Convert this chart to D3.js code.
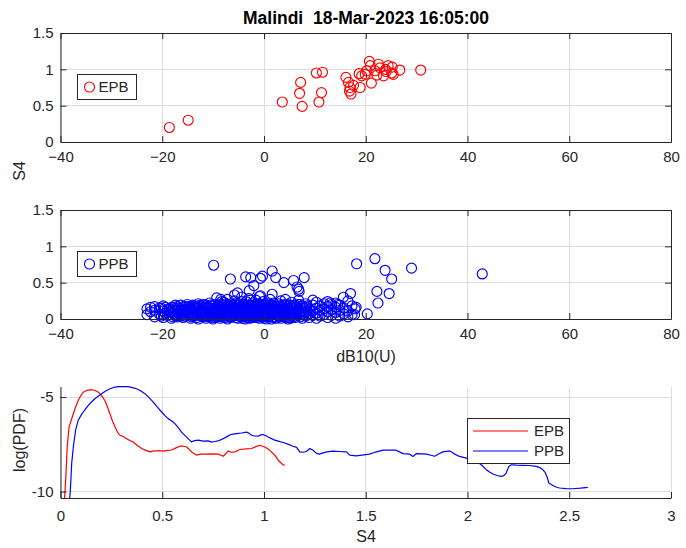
<!DOCTYPE html>
<html>
<head>
<meta charset="utf-8">
<script src="https://cdn.jsdelivr.net/npm/d3@7"></script>
<style>
  body { margin: 0; background: #fff; }
  text { font-family: "Liberation Sans", Arial, Helvetica, sans-serif; fill: #262626; white-space: pre; }
</style>
</head>
<body>
<svg id="chart" width="686" height="548"></svg>
<script>
// ---- data -------------------------------------------------------------
const titleText = "Malindi  18-Mar-2023 16:05:00";

// EPB events: [dB10(U), S4]
const epbPoints = [
  [-18.6,0.20],[-14.9,0.30],[3.6,0.55],[7.2,0.82],[7.0,0.67],[7.5,0.49],
  [10.3,0.95],[11.5,0.96],[11.3,0.68],[10.8,0.55],[16.1,0.89],[16.6,0.82],
  [16.9,0.75],[16.8,0.70],[17.1,0.66],[18.9,0.75],[18.7,0.94],[19.2,0.91],
  [20.2,0.98],[20.7,1.11],[20.9,1.05],[21.1,0.81],[21.8,0.98],[22.5,1.07],
  [22.8,1.02],[23.5,0.91],[23.9,1.00],[24.4,1.05],[25.1,0.95],[25.4,0.93],
  [26.7,0.99],[30.8,0.99],[19.9,0.93],[17.6,0.78],[22.2,0.92],[24.0,0.97],
  [25.2,1.03]
];

// PPB events: [dB10(U), S4]
const ppbPoints = [
  [-23,0.06],[-23,0.14],[-22.3,0.10],[-22.3,0.16],
  [-21.5,0.03],[-21.5,0.12],[-21.5,0.17],[-20.6,0.07],[-20.6,0.15],
  [-19.8,0.02],[-19.8,0.11],[-19.8,0.18],[-19.0,0.05],[-19.0,0.13],
  [-18.2,0.01],[-18.2,0.09],[-18.2,0.16],[-17.4,0.04],[-17.4,0.12],[-17.4,0.19],
  [-16.7,0.07],[-16.7,0.15],[-15.9,0.02],[-15.9,0.10],[-15.9,0.17],
  [-15.1,0.05],[-15.1,0.13],[-15.1,0.20],[-14.4,0.01],[-14.4,0.08],[-14.4,0.16],
  [-13.6,0.04],[-13.6,0.11],[-13.6,0.18],[-12.9,0.00],[-12.9,0.07],[-12.9,0.14],[-12.9,0.21],
  [-12.1,0.03],[-12.1,0.10],[-12.1,0.17],[-11.4,0.01],[-11.4,0.06],[-11.4,0.13],[-11.4,0.19],
  [-10.7,0.04],[-10.7,0.09],[-10.7,0.15],[-10.7,0.22],[-10.0,0.00],[-10.0,0.07],[-10.0,0.12],[-10.0,0.18],
  [-9.3,0.03],[-9.3,0.10],[-9.3,0.16],[-9.3,0.29],[-8.6,0.01],[-8.6,0.06],[-8.6,0.13],[-8.6,0.20],
  [-7.9,0.04],[-7.9,0.09],[-7.9,0.15],[-7.9,0.23],[-7.2,0.00],[-7.2,0.07],[-7.2,0.12],[-7.2,0.18],[-7.2,0.27],
  [-6.5,0.02],[-6.5,0.10],[-6.5,0.16],[-6.5,0.21],[-5.8,0.05],[-5.8,0.08],[-5.8,0.14],[-5.8,0.25],[-5.8,0.33],
  [-5.1,0.01],[-5.1,0.06],[-5.1,0.12],[-5.1,0.19],[-4.4,0.03],[-4.4,0.09],[-4.4,0.17],[-4.4,0.24],[-4.4,0.30],
  [-3.7,0.00],[-3.7,0.07],[-3.7,0.13],[-3.7,0.20],[-3.0,0.04],[-3.0,0.11],[-3.0,0.16],[-3.0,0.28],
  [-2.3,0.02],[-2.3,0.08],[-2.3,0.14],[-2.3,0.22],[-1.6,0.05],[-1.6,0.10],[-1.6,0.18],[-1.6,0.26],
  [-0.9,0.01],[-0.9,0.07],[-0.9,0.13],[-0.9,0.21],[-0.9,0.31],[-0.2,0.03],[-0.2,0.09],[-0.2,0.16],[-0.2,0.24],
  [0.5,0.00],[0.5,0.06],[0.5,0.12],[0.5,0.19],[1.2,0.04],[1.2,0.10],[1.2,0.17],[1.2,0.27],
  [1.9,0.02],[1.9,0.08],[1.9,0.14],[1.9,0.22],[2.6,0.05],[2.6,0.11],[2.6,0.18],
  [3.3,0.01],[3.3,0.07],[3.3,0.15],[3.3,0.25],[4.0,0.03],[4.0,0.10],[4.0,0.20],
  [4.7,0.00],[4.7,0.06],[4.7,0.13],[4.7,0.17],[5.4,0.04],[5.4,0.09],[5.4,0.15],[5.4,0.23],
  [6.1,0.02],[6.1,0.11],[6.1,0.19],[6.8,0.05],[6.8,0.08],[6.8,0.14],[6.8,0.26],
  [7.5,0.01],[7.5,0.12],[7.5,0.18],[8.2,0.04],[8.2,0.09],[8.2,0.16],[8.2,0.21],
  [8.9,0.02],[8.9,0.07],[8.9,0.13],[9.6,0.05],[9.6,0.11],[9.6,0.19],[9.6,0.26],
  [10.3,0.01],[10.3,0.08],[10.3,0.15],[10.3,0.23],[11.0,0.04],[11.0,0.12],[11.0,0.18],
  [11.8,0.06],[11.8,0.14],[11.8,0.21],[12.5,0.02],[12.5,0.10],[12.5,0.17],[12.5,0.24],
  [13.3,0.05],[13.3,0.13],[13.3,0.20],[14.1,0.01],[14.1,0.09],[14.1,0.16],[14.1,0.22],
  [14.9,0.04],[14.9,0.12],[14.9,0.19],[15.7,0.07],[15.7,0.15],
  [16.5,0.03],[16.5,0.11],[16.5,0.25],[17.3,0.06],[17.3,0.18],[18.1,0.16],
  [-16.3,0.04],[-16.3,0.12],[-14.8,0.06],[-14.8,0.14],[-13.2,0.02],[-13.2,0.10],[-13.2,0.17],
  [-11.8,0.05],[-11.8,0.15],[-10.3,0.02],[-10.3,0.11],[-9.0,0.05],[-9.0,0.14],[-8.2,0.09],
  [-7.6,0.02],[-6.8,0.13],[-6.1,0.04],[-5.4,0.10],[-4.8,0.15],[-4.0,0.05],[-3.3,0.09],
  [-2.7,0.18],[-1.9,0.03],[-1.2,0.15],[-0.5,0.05],[0.2,0.10],[0.9,0.15],[1.5,0.06],
  [2.2,0.12],[3.0,0.03],[3.6,0.12],[4.4,0.08],[5.0,0.02],
  [-18.6,0.06],[-18.6,0.14],[-17.8,0.08],[-17.8,0.16],[-17.0,0.03],[-17.0,0.11],
  [-16.0,0.06],[-16.0,0.14],[-15.5,0.09],[-15.5,0.17],[-14.0,0.04],[-14.0,0.12],[-14.0,0.19],
  [-13.0,0.09],[-12.5,0.05],[-12.5,0.13],[-12.5,0.19],[-11.0,0.03],[-11.0,0.10],[-11.0,0.17],
  [-10.4,0.06],[-10.4,0.14],[-9.6,0.02],[-9.6,0.08],[-9.6,0.13],[-9.6,0.20],[-8.9,0.10],[-8.9,0.17],
  [-8.3,0.03],[-8.3,0.12],[-8.3,0.24],[-7.5,0.05],[-7.5,0.10],[-7.5,0.16],[-7.5,0.21],
  [-6.9,0.03],[-6.9,0.08],[-6.9,0.18],[-6.2,0.06],[-6.2,0.12],[-6.2,0.19],[-5.5,0.02],[-5.5,0.16],[-5.5,0.22],
  [-4.9,0.04],[-4.9,0.09],[-4.2,0.01],[-4.2,0.13],[-4.2,0.20],[-3.5,0.04],[-3.5,0.10],[-3.5,0.17],[-3.5,0.24],
  [-2.8,0.01],[-2.8,0.07],[-2.8,0.13],[-2.1,0.05],[-2.1,0.11],[-2.1,0.18],[-1.4,0.02],[-1.4,0.08],[-1.4,0.21],
  [-0.7,0.04],[-0.7,0.10],[-0.7,0.17],[0.0,0.01],[0.0,0.06],[0.0,0.13],[0.0,0.20],
  [0.8,0.03],[0.8,0.09],[0.8,0.22],[1.5,0.00],[1.5,0.13],[1.5,0.19],[2.3,0.03],[2.3,0.08],[2.3,0.16],
  [2.9,0.06],[2.9,0.13],[2.9,0.21],[3.7,0.04],[3.7,0.18],[4.3,0.02],[4.3,0.11],[4.3,0.15],
  [5.1,0.07],[5.1,0.12],[5.1,0.19],[5.8,0.03],[5.8,0.14],[6.4,0.07],[6.4,0.16],
  [7.1,0.03],[7.1,0.10],[7.1,0.20],[7.8,0.06],[7.8,0.15],[8.5,0.11],[8.5,0.18],
  [-20.2,0.04],[-20.2,0.15],[-19.4,0.08],[-19.4,0.16],[-18.6,0.10],[-17.9,0.03],[-17.9,0.13],
  [-17.1,0.06],[-17.1,0.17],[-16.4,0.09],[-16.4,0.19],[-15.6,0.04],[-15.6,0.13],[-14.9,0.09],
  [-14.9,0.17],[-14.2,0.03],[-14.2,0.14],[-13.4,0.07],[-13.4,0.15],[-12.7,0.11],[-12.7,0.18],
  [-11.9,0.08],[-11.9,0.20],[-11.2,0.04],[-11.2,0.16],[-10.5,0.12],[-10.5,0.19],[-9.8,0.05],
  [-9.8,0.15],[-9.1,0.08],[-9.1,0.19],[-8.4,0.05],[-8.4,0.16],[-7.7,0.12],[-7.7,0.19],
  [-7.0,0.05],[-7.0,0.15],[-6.3,0.08],[-6.3,0.17],[-5.6,0.11],[-5.6,0.19],[-4.9,0.13],
  [-4.9,0.21],[-4.2,0.07],[-3.9,0.15],[-3.2,0.02],[-3.2,0.13],[-2.5,0.10],[-2.5,0.19],
  [-1.8,0.07],[-1.8,0.15],[-1.1,0.04],[-1.1,0.18],[-0.4,0.12],[-0.4,0.20],[0.3,0.04],
  [0.3,0.15],[1.0,0.07],[1.0,0.19],[1.7,0.11],[1.7,0.17],[2.4,0.01],[2.4,0.14],[3.1,0.10],
  [3.1,0.18],[3.8,0.07],[3.8,0.14],[4.5,0.10],[4.5,0.20],[5.2,0.01],[5.2,0.16],[5.9,0.08],
  [5.9,0.18],[6.6,0.11],[6.6,0.20],[7.3,0.07],[7.3,0.15],
  [-9.9,0.74],[-6.6,0.55],[-3.6,0.58],[-2.6,0.57],[-0.7,0.56],[-0.3,0.59],[1.6,0.66],
  [2.3,0.57],[3.9,0.50],[5.8,0.53],[7.9,0.57],[6.8,0.41],[6.5,0.44],[6.9,0.38],
  [-5.2,0.36],[-2.9,0.39],[1.6,0.34],[-8.5,0.27],[-0.7,0.32],[4.2,0.27],[-2.0,0.46],
  [18.2,0.76],[21.8,0.83],[23.8,0.67],[25.1,0.55],[29.0,0.70],[42.9,0.62],
  [22.2,0.38],[24.6,0.35],[22.4,0.22],[20.3,0.07],[17.0,0.35],[15.6,0.30],
  [17.9,0.14],[17.8,0.06],[14.5,0.20],[13.0,0.22]
];

// log(PDF) of S4 for each class: [S4, log(PDF)]
const pdfEpb = [
  [0.018,-10.6],[0.022,-10.0],[0.027,-9.04],[0.033,-7.64],[0.042,-6.58],[0.052,-6.25],
  [0.063,-5.88],[0.075,-5.5],[0.087,-5.18],[0.1,-4.92],[0.112,-4.74],[0.13,-4.64],
  [0.153,-4.61],[0.17,-4.65],[0.186,-4.74],[0.2,-4.9],[0.218,-5.18],[0.23,-5.5],
  [0.243,-5.88],[0.255,-6.25],[0.268,-6.58],[0.28,-6.85],[0.292,-7.02],[0.31,-7.1],
  [0.325,-7.2],[0.34,-7.3],[0.355,-7.36],[0.366,-7.46],[0.38,-7.58],[0.398,-7.72],
  [0.42,-7.82],[0.44,-7.9],[0.452,-7.86],[0.464,-7.85],[0.49,-7.84],[0.513,-7.85],
  [0.53,-7.82],[0.546,-7.8],[0.565,-7.7],[0.587,-7.6],[0.605,-7.6],[0.62,-7.64],
  [0.636,-7.81],[0.65,-7.95],[0.668,-8.07],[0.69,-8.02],[0.709,-8.02],[0.74,-8.0],
  [0.775,-8.02],[0.8,-8.13],[0.812,-8.0],[0.824,-7.85],[0.84,-7.92],[0.857,-7.9],
  [0.875,-7.8],[0.89,-7.76],[0.915,-7.74],[0.939,-7.72],[0.96,-7.62],[0.98,-7.55],
  [0.992,-7.6],[1.004,-7.64],[1.02,-7.75],[1.037,-7.9],[1.055,-8.1],[1.07,-8.34],
  [1.085,-8.5],[1.095,-8.6],[1.102,-8.58]
];
const pdfPpb = [
  [0.043,-10.6],[0.048,-10.0],[0.055,-8.51],[0.063,-7.64],[0.074,-6.76],[0.087,-6.23],
  [0.1,-5.98],[0.112,-5.79],[0.125,-5.6],[0.137,-5.44],[0.152,-5.26],[0.169,-5.09],
  [0.185,-4.95],[0.202,-4.82],[0.222,-4.68],[0.243,-4.56],[0.262,-4.49],[0.284,-4.45],
  [0.31,-4.44],[0.333,-4.45],[0.354,-4.5],[0.374,-4.56],[0.395,-4.68],[0.415,-4.82],
  [0.435,-5.03],[0.456,-5.27],[0.475,-5.52],[0.497,-5.79],[0.513,-5.98],[0.529,-6.14],
  [0.545,-6.25],[0.562,-6.4],[0.578,-6.6],[0.595,-6.85],[0.612,-7.04],[0.627,-7.2],
  [0.644,-7.37],[0.66,-7.3],[0.677,-7.28],[0.7,-7.33],[0.726,-7.32],[0.742,-7.38],
  [0.758,-7.35],[0.78,-7.3],[0.8,-7.2],[0.82,-7.08],[0.84,-6.97],[0.865,-6.93],
  [0.89,-6.9],[0.914,-6.85],[0.927,-6.92],[0.939,-7.02],[0.955,-7.06],[0.971,-7.07],
  [0.985,-7.0],[0.996,-6.98],[1.01,-7.05],[1.02,-7.11],[1.037,-7.2],[1.053,-7.28],
  [1.078,-7.36],[1.102,-7.43],[1.12,-7.5],[1.143,-7.6],[1.16,-7.66],[1.176,-7.9],
  [1.192,-7.92],[1.208,-7.88],[1.225,-7.72],[1.241,-7.81],[1.258,-7.98],[1.272,-8.02],
  [1.29,-7.95],[1.31,-7.9],[1.339,-7.86],[1.37,-7.88],[1.405,-7.9],[1.421,-8.07],
  [1.454,-8.11],[1.49,-8.06],[1.519,-8.02],[1.535,-7.96],[1.552,-7.9],[1.585,-7.81],
  [1.62,-7.8],[1.65,-7.81],[1.666,-7.9],[1.683,-7.99],[1.716,-8.02],[1.732,-8.14],
  [1.749,-7.99],[1.775,-8.0],[1.798,-8.02],[1.82,-8.08],[1.839,-8.13],[1.86,-8.0],
  [1.879,-7.9],[1.912,-7.85],[1.925,-7.92],[1.937,-8.02],[1.961,-8.14],[1.994,-8.23],
  [2.02,-8.3],[2.045,-8.42],[2.068,-8.58],[2.092,-8.84],[2.11,-8.98],[2.125,-9.07],
  [2.145,-9.15],[2.166,-9.2],[2.18,-9.14],[2.19,-9.02],[2.198,-8.8],[2.203,-8.67],
  [2.215,-8.58],[2.24,-8.6],[2.272,-8.61],[2.305,-8.62],[2.338,-8.67],[2.355,-8.73],
  [2.37,-8.84],[2.382,-9.0],[2.39,-9.2],[2.396,-9.4],[2.4,-9.55],[2.419,-9.68],
  [2.435,-9.76],[2.452,-9.81],[2.485,-9.84],[2.517,-9.85],[2.555,-9.82],[2.591,-9.78]
];

// axis ticks
const dbTicks = [-40, -20, 0, 20, 40, 60, 80];
const s4Ticks = [0, 0.5, 1, 1.5];
const pdfXTicks = [0, 0.5, 1, 1.5, 2, 2.5, 3];
const pdfYTicks = [-10, -5];

// ---- layout -----------------------------------------------------------
const svg = d3.select("#chart");
const L = 60.5, R = 671;
const AX = "#262626", GRID = "#dedede", RED = "#ff0000", BLUE = "#0000ff";
const TICK_FONT = "15px", LABEL_FONT = "16px";

const xDb = d3.scaleLinear().domain([-40, 80]).range([L, R]);
const yTop = d3.scaleLinear().domain([0, 1.5]).range([142, 33]);
const yMid = d3.scaleLinear().domain([0, 1.5]).range([319, 210]);
const xS4 = d3.scaleLinear().domain([0, 3]).range([L, R]);
const yPdf = d3.scaleLinear().domain([-10.34, -4.44]).range([498, 386.5]);

function styleAxis(g, showText) {
  g.select(".domain").attr("stroke", AX).attr("stroke-width", 1);
  g.selectAll(".tick line").attr("stroke", AX).attr("stroke-width", 1);
  g.selectAll(".tick text").attr("fill", AX).style("font-size", TICK_FONT)
    .style("display", showText ? null : "none");
}

function grid(x, y, xt, yt) {
  const g = svg.append("g").attr("shape-rendering", "crispEdges");
  const [y0, y1] = y.range();
  const [x0, x1] = x.range();
  g.selectAll(".gx").data(xt).enter().append("line")
    .attr("x1", d => x(d)).attr("x2", d => x(d))
    .attr("y1", y0).attr("y2", y1).attr("stroke", GRID);
  g.selectAll(".gy").data(yt).enter().append("line")
    .attr("x1", x0).attr("x2", x1)
    .attr("y1", d => y(d)).attr("y2", d => y(d)).attr("stroke", GRID);
}

function boxedAxes(x, y, xt, yt, fmtY) {
  const [yb, yt0] = y.range();
  const gb = svg.append("g").attr("transform", `translate(0,${yb})`)
    .call(d3.axisBottom(x).tickValues(xt).tickSizeInner(-6).tickSizeOuter(0).tickPadding(9).tickFormat(d3.format("d")));
  styleAxis(gb, true);
  const gt = svg.append("g").attr("transform", `translate(0,${yt0})`)
    .call(d3.axisTop(x).tickValues(xt).tickSizeInner(-6).tickSizeOuter(0));
  styleAxis(gt, false);
  const gl = svg.append("g").attr("transform", `translate(${L},0)`)
    .call(d3.axisLeft(y).tickValues(yt).tickSizeInner(-6).tickSizeOuter(0).tickPadding(7).tickFormat(fmtY));
  styleAxis(gl, true);
  const gr = svg.append("g").attr("transform", `translate(${R},0)`)
    .call(d3.axisRight(y).tickValues(yt).tickSizeInner(-6).tickSizeOuter(0));
  styleAxis(gr, false);
}

const fmtS4 = d => String(d);

// ---- panel 1: EPB scatter ---------------------------------------------
grid(xDb, yTop, dbTicks, s4Ticks);
svg.append("g").selectAll("circle").data(epbPoints).enter().append("circle")
  .attr("cx", d => xDb(d[0])).attr("cy", d => yTop(d[1])).attr("r", 5)
  .attr("fill", "none").attr("stroke", RED).attr("stroke-width", 1.15);
boxedAxes(xDb, yTop, dbTicks, s4Ticks, fmtS4);

// ---- panel 2: PPB scatter ---------------------------------------------
grid(xDb, yMid, dbTicks, s4Ticks);
svg.append("g").selectAll("circle").data(ppbPoints).enter().append("circle")
  .attr("cx", d => xDb(d[0])).attr("cy", d => yMid(d[1])).attr("r", 5)
  .attr("fill", "none").attr("stroke", BLUE).attr("stroke-width", 1.15);
boxedAxes(xDb, yMid, dbTicks, s4Ticks, fmtS4);

// ---- panel 3: log(PDF) curves -----------------------------------------
grid(xS4, yPdf, pdfXTicks, pdfYTicks);
svg.append("defs").append("clipPath").attr("id", "pdfClip")
  .append("rect").attr("x", L).attr("y", 380).attr("width", R - L + 2).attr("height", 498 - 380);
const line = d3.line().x(d => xS4(d[0])).y(d => yPdf(d[1]));
const curves = svg.append("g").attr("clip-path", "url(#pdfClip)");
curves.append("path").datum(pdfEpb).attr("d", line)
  .attr("fill", "none").attr("stroke", RED).attr("stroke-width", 1.2).attr("stroke-linejoin", "round");
curves.append("path").datum(pdfPpb).attr("d", line)
  .attr("fill", "none").attr("stroke", BLUE).attr("stroke-width", 1.2).attr("stroke-linejoin", "round");

const gpb = svg.append("g").attr("transform", "translate(0,498)")
  .call(d3.axisBottom(xS4).tickValues(pdfXTicks).tickSizeInner(-6).tickSizeOuter(0).tickPadding(12).tickFormat(d => String(d)));
styleAxis(gpb, true);
const gpl = svg.append("g").attr("transform", `translate(${L},0)`)
  .call(d3.axisLeft(yPdf).tickValues(pdfYTicks).tickSizeInner(-6).tickSizeOuter(0).tickPadding(7).tickFormat(d => String(d)));
styleAxis(gpl, true);

// ---- legends ----------------------------------------------------------
function markerLegend(x, y, w, h, color, label) {
  const g = svg.append("g");
  g.append("rect").attr("x", x).attr("y", y).attr("width", w).attr("height", h)
    .attr("fill", "#fff").attr("stroke", AX).attr("stroke-width", 1).attr("shape-rendering", "crispEdges");
  g.append("circle").attr("cx", x + 12).attr("cy", y + h / 2).attr("r", 5)
    .attr("fill", "none").attr("stroke", color).attr("stroke-width", 1.15);
  g.append("text").attr("x", x + 21).attr("y", y + h / 2).attr("dy", "0.36em")
    .style("font-size", TICK_FONT).text(label);
}
markerLegend(77.5, 74.5, 59, 25, RED, "EPB");
markerLegend(77.5, 251.5, 59, 25, BLUE, "PPB");

const lg = svg.append("g");
lg.append("rect").attr("x", 467.5).attr("y", 418.5).attr("width", 102).attr("height", 45)
  .attr("fill", "#fff").attr("stroke", AX).attr("stroke-width", 1).attr("shape-rendering", "crispEdges");
[["EPB", RED, 431], ["PPB", BLUE, 451]].forEach(([t, c, yy]) => {
  lg.append("line").attr("x1", 473).attr("x2", 528).attr("y1", yy).attr("y2", yy)
    .attr("stroke", c).attr("stroke-width", 1.2);
  lg.append("text").attr("x", 534).attr("y", yy).attr("dy", "0.36em")
    .style("font-size", TICK_FONT).text(t);
});

// ---- titles and labels ------------------------------------------------
svg.append("text").attr("x", 366).attr("y", 24).attr("text-anchor", "middle")
  .style("font-size", "17.5px").style("font-weight", "bold").style("fill", "#000").text(titleText);
svg.append("text").attr("transform", "translate(25,171) rotate(-90)").attr("text-anchor", "middle")
  .style("font-size", LABEL_FONT).text("S4");
svg.append("text").attr("x", 366).attr("y", 362).attr("text-anchor", "middle")
  .style("font-size", LABEL_FONT).text("dB10(U)");
svg.append("text").attr("transform", "translate(25,440) rotate(-90)").attr("text-anchor", "middle")
  .style("font-size", LABEL_FONT).text("log(PDF)");
svg.append("text").attr("x", 366).attr("y", 542).attr("text-anchor", "middle")
  .style("font-size", LABEL_FONT).text("S4");
</script>
</body>
</html>
